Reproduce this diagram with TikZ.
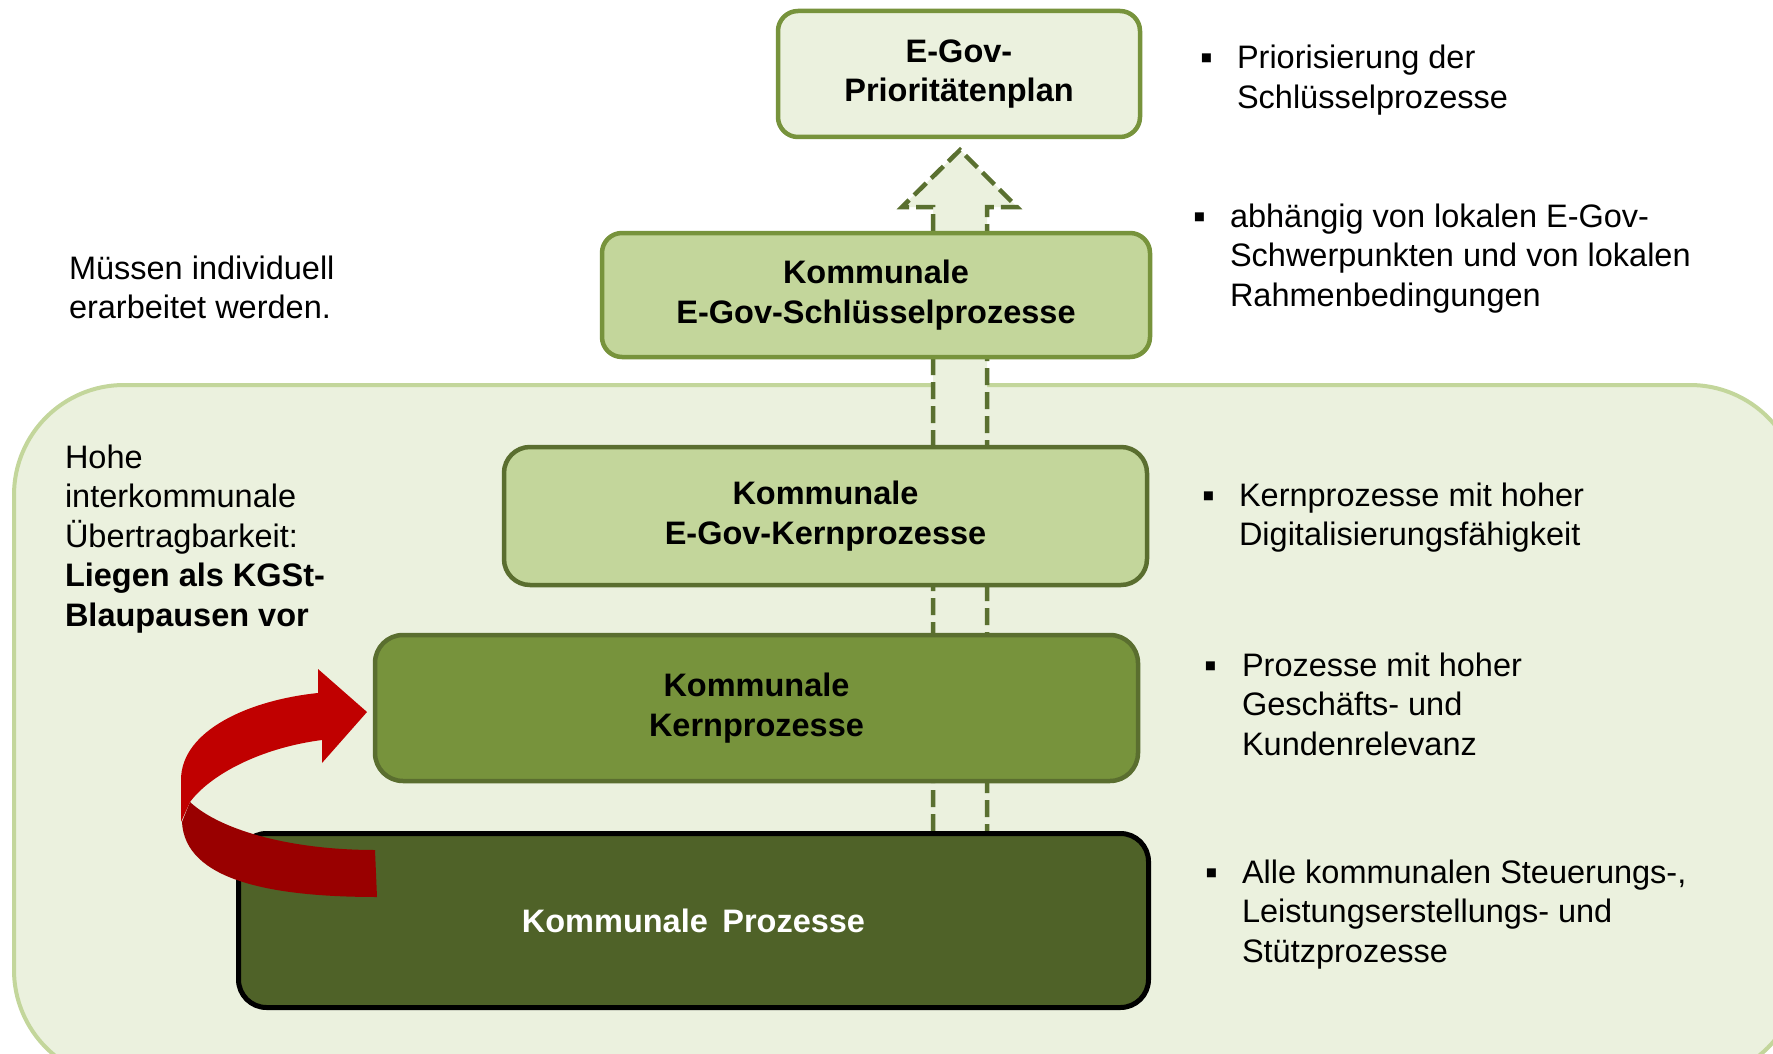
\documentclass[tikz,border=0pt]{standalone}
\usepackage{fontspec}
\setmainfont{Liberation Sans}
\definecolor{bgfill}{HTML}{EBF1DE}
\definecolor{bgline}{HTML}{C3D69B}
\definecolor{lightgreen}{HTML}{C3D69B}
\definecolor{midgreen}{HTML}{77933C}
\definecolor{darkgreen}{HTML}{4F6228}
\definecolor{boxline}{HTML}{5A6E2F}
\definecolor{dashgreen}{HTML}{5A7030}
\definecolor{redA}{HTML}{C00000}
\definecolor{redB}{HTML}{990000}
\begin{document}
\begin{tikzpicture}[x=1pt,y=-1pt,
  every node/.style={inner sep=0pt, outer sep=0pt},
  txt/.style={font=\fontsize{32.5}{39.5}\selectfont, align=left, anchor=base west},
  rtxt/.style={font=\fontsize{32.5}{39.5}\selectfont, align=left, anchor=base west},
  bul/.style={font=\fontsize{36}{40}\selectfont, anchor=base west},
  box/.style={rounded corners=20pt, line width=4.5pt, font=\fontsize{32.5}{39.5}\selectfont\bfseries, align=center}]
\useasboundingbox (0,0) rectangle (1773,1054);
\clip (0,0) rectangle (1773,1054);
\fill[white] (0,0) rectangle (1773,1054);
% background area
\draw[bgline, fill=bgfill, line width=4pt, rounded corners=110pt] (14,385) rectangle (1800,1080);
% dashed upward arrow
\coordinate (apex) at (960,150);
\draw[dashgreen, fill=bgfill, line width=4.5pt, dash pattern=on 17pt off 7pt]
  (933,831) -- (933,207) -- (902,207) -- (apex) -- (1017,207) -- (987,207) -- (987,831);
% boxes
\node[box, draw=midgreen, fill=bgfill, minimum width=362pt, minimum height=126pt] (prio) at (959,74) {E-Gov-\\Prioritätenplan};
\node[box, draw=midgreen, fill=lightgreen, minimum width=548pt, minimum height=124pt] (schl) at (876,295) {Kommunale\\E-Gov-Schlüsselprozesse};
\node[box, draw=boxline, fill=lightgreen, minimum width=643pt, minimum height=138pt, rounded corners=26pt] (egk) at (825.5,516) {Kommunale\\E-Gov-Kernprozesse};
\node[box, draw=boxline, fill=midgreen, minimum width=763pt, minimum height=146pt, rounded corners=28pt] (kk) at (756.5,708) {Kommunale\\Kernprozesse};
\node[box, draw=black, fill=darkgreen, text=white, line width=5pt, minimum width=910pt, minimum height=174pt, rounded corners=28pt] (kp) at (693.5,920.5) {Kommunale\ \,Prozesse};
% red curved arrow
\fill[redB] (375,850) .. controls (290,850) and (220,830) .. (190,802)
  -- (182,822) .. controls (185,880) and (270,897) .. (377,897) -- cycle;
\fill[redA] (181,822) -- (181,780) .. controls (181,730) and (250,700) .. (318,693)
  -- (318,669) -- (367,712) -- (322,763) -- (322,740)
  .. controls (260,748) and (210,775) .. (190,802) -- cycle;
% left texts (anchor = baseline of last line)
\node[txt] (t1) at (69,318.5) {Müssen individuell\\erarbeitet werden.};
\node[txt] (t2) at (65,626) {Hohe\\interkommunale\\Übertragbarkeit:\\\textbf{Liegen als KGSt-}\\\textbf{Blaupausen vor}};
% right bullets
\node[bul] (b1) at (1200,70) {▪};
\node[rtxt] (r1) at (1237,108.5) {Priorisierung der\\Schlüsselprozesse};
\node[bul] (b2) at (1193,228) {▪};
\node[rtxt] (r2) at (1230,306) {abhängig von lokalen E-Gov-\\Schwerpunkten und von lokalen\\Rahmenbedingungen};
\node[bul] (b3) at (1202,507) {▪};
\node[rtxt] (r3) at (1239,545.5) {Kernprozesse mit hoher\\Digitalisierungsfähigkeit};
\node[bul] (b4) at (1204,677) {▪};
\node[rtxt] (r4) at (1242,755) {Prozesse mit hoher\\Geschäfts- und\\Kundenrelevanz};
\node[bul] (b5) at (1205,884) {▪};
\node[rtxt] (r5) at (1242,962) {Alle kommunalen Steuerungs-,\\Leistungserstellungs- und\\Stützprozesse};
\end{tikzpicture}
\end{document}
